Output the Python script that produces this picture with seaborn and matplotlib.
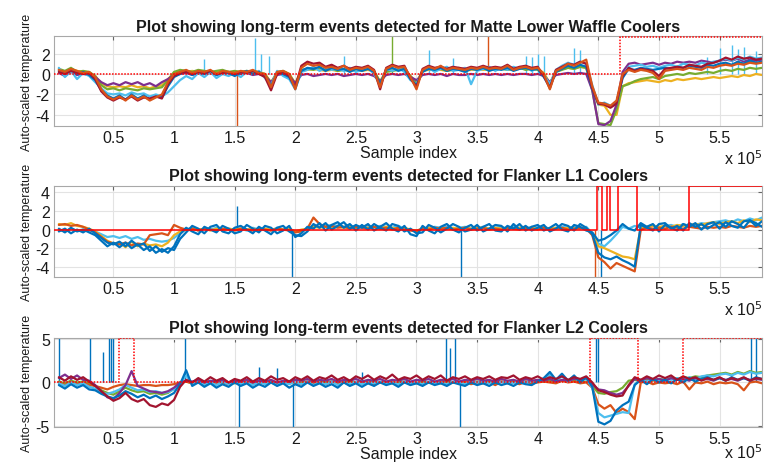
import numpy as np
import pandas as pd
import matplotlib
matplotlib.use("Agg")
import matplotlib.pyplot as plt
import seaborn as sns

# ---------------- data ----------------
titles = ["Plot showing long-term events detected for Matte Lower Waffle Coolers",
          "Plot showing long-term events detected for Flanker L1 Coolers",
          "Plot showing long-term events detected for Flanker L2 Coolers"]
x_tick_values = [50000, 100000, 150000, 200000, 250000, 300000, 350000, 400000, 450000, 500000, 550000]
x_tick_labels = ["0.5", "1", "1.5", "2", "2.5", "3", "3.5", "4", "4.5", "5", "5.5"]
y_ticks = [[-4, -2, 0, 2], [-4, -2, 0, 2, 4], [-5, 0, 5]]
y_limits = [(-5.1, 3.7), (-5.1, 4.7), (-5.1, 5.1)]
x_limits = (1000, 585000)

# sample index of every listed value (one value per 5000 samples)
sample_index = np.arange(1, 118) * 5000

colors = {"blue": "#0072BD", "orange": "#D95319", "yellow": "#EDB120", "purple": "#7E2F8E",
          "green": "#77AC30", "lightblue": "#4DBEEE", "darkred": "#A2142F", "blue2": "#0072BD"}

# ---- panel 1: Matte Lower Waffle Coolers ----
p1_yellow = [0.4, 0.2, 0.5, 0.3, 0.2, 0.1, -0.2, -0.9, -1.2, -1.3,
             -1.2, -1.3, -1.1, -1.3, -1.2, -1.4, -1.2, -1.1, -0.5, 0.1,
             0.3, 0.2, 0.3, 0.2, 0.3, 0.1, 0.2, 0.3, 0.2, 0.1,
             0.2, 0.1, 0.3, 0.2, 0.0, -0.8, 0.1, 0.2, 0.0, -0.9,
             0.3, 0.4, 0.5, 0.4, 0.3, 0.4, 0.3, 0.5, 0.4, 0.3,
             0.3, 0.4, 0.2, -0.7, 0.3, 0.4, 0.5, 0.4, -0.2, -0.8,
             0.3, 0.4, 0.5, 0.4, 0.3, 0.5, 0.4, 0.3, 0.4, 0.5,
             0.4, 0.5, 0.4, 0.6, 0.5, 0.4, 0.5, 0.6, 0.4, 0.5,
             0.1, -0.9, 0.3, 0.5, 0.6, 0.5, 0.7, 0.6, -1.3, -3.0,
             -3.1, -4.0, -4.0, -1.2, -0.9, -0.8, -0.7, -0.6, -0.7, -0.8,
             -0.6, -0.7, -0.5, -0.6, -0.5, -0.4, -0.5, -0.4, -0.3, -0.4,
             -0.3, -0.2, -0.3, -0.1, -0.2, 0.0, -0.1]
p1_green = [0.5, 0.3, 0.6, 0.2, 0.3, 0.2, -0.2, -1.1, -1.5, -1.4,
            -1.6, -1.4, -1.5, -1.6, -1.4, -1.5, -1.4, -1.3, -0.6, 0.2,
            0.4, 0.3, 0.2, 0.4, 0.3, 0.2, 0.3, 0.4, 0.2, 0.3,
            0.2, 0.3, 0.2, 0.1, 0.0, -0.9, 0.2, 0.3, 0.0, -1.0,
            0.4, 0.5, 0.4, 0.6, 0.4, 0.5, 0.3, 0.4, 0.3, 0.5,
            0.4, 0.5, 0.3, -0.8, 0.2, 0.3, 0.4, 0.5, -0.2, -0.9,
            0.3, 0.5, 0.4, 0.5, 0.3, 0.4, 0.6, 0.3, 0.5, 0.4,
            0.5, 0.4, 0.6, 0.5, 0.4, 0.5, 0.6, 0.4, 0.5, 0.4,
            0.0, -1.0, 0.2, 0.4, 0.6, 0.5, 0.7, 0.6, -1.6, -4.8,
            -4.9, -5.0, -3.5, -1.2, -1.0, -0.7, -0.5, -0.4, -0.3, -0.5,
            -0.2, -0.1, 0.0, -0.1, 0.1, 0.0, 0.1, 0.2, 0.1, 0.3,
            0.4, 0.3, 0.5, 0.4, 0.6, 0.5, 0.6]
p1_purple = [0.1, -0.2, 0.2, -0.1, 0.0, -0.1, -0.3, -0.8, -1.1, -0.9,
             -1.1, -0.8, -1.0, -0.8, -1.1, -0.9, -1.2, -0.8, -0.5, -0.1,
             0.0, 0.1, -0.1, 0.1, 0.0, 0.1, -0.1, 0.0, 0.1, -0.1,
             0.0, 0.1, -0.1, 0.0, -0.2, -0.8, -0.1, 0.0, -0.2, -0.9,
             -0.1, 0.0, -0.2, -0.1, 0.0, -0.1, 0.0, -0.2, -0.1, 0.0,
             -0.1, 0.0, -0.2, -0.7, -0.1, 0.0, -0.1, 0.0, -0.3, -0.6,
             -0.1, 0.0, -0.1, 0.0, -0.2, 0.0, -0.1, -0.1, 0.0, -0.1,
             0.0, -0.1, 0.0, -0.1, 0.0, -0.1, 0.0, 0.0, -0.1, 0.0,
             -0.2, -0.8, -0.1, 0.0, 0.1, 0.0, 0.1, 0.0, -1.6, -4.9,
             -5.0, -4.6, -3.0, 0.2, 1.0, 1.1, 0.9, 1.0, 1.1, 0.9,
             1.1, 1.0, 1.2, 1.1, 1.2, 1.1, 1.3, 1.2, 1.1, 1.3,
             1.4, 1.3, 1.5, 1.2, 1.4, 1.3, 1.4]
p1_lightblue = [0.6, -0.3, 0.3, -0.5, 0.1, -0.2, -0.8, -1.4, -1.9, -2.0,
                -1.9, -2.1, -1.8, -2.0, -1.9, -2.2, -2.0, -2.2, -1.8, -1.2,
                -0.6, -0.2, -0.5, 0.1, -0.3, 0.2, -0.4, 0.0, -0.2, 0.1,
                -0.3, 0.2, 0.0, 0.3, -0.4, -1.1, 0.3, -0.2, -0.5, -1.5,
                0.2, 0.4, 0.7, 0.3, 0.6, 0.4, 0.5, 0.3, 0.6, 0.2,
                0.4, 0.6, 0.0, -1.1, 0.5, 0.3, 0.6, 0.2, -0.6, -1.0,
                0.3, 0.6, 0.2, 0.5, 0.7, 0.3, 0.4, 0.6, -1.0, 0.3,
                0.5, 0.7, 0.3, 0.6, 0.4, 0.7, 0.5, 0.8, 0.3, 0.6,
                -0.1, -1.0, 0.4, 0.8, 1.1, 0.9, 1.2, 1.0, -1.1, -3.0,
                -2.8, -3.1, -2.9, -0.3, 0.7, 0.8, 0.9, 0.7, 0.8, 0.6,
                0.8, 0.9, 0.7, 1.0, 0.9, 0.8, 1.1, 1.0, 1.2, 1.3,
                1.5, 1.3, 1.6, 1.4, 1.7, 1.5, 1.6]
p1_blue = [0.3, 0.1, 0.4, 0.0, 0.2, -0.1, -0.6, -1.6, -2.1, -2.4,
           -2.1, -2.5, -2.0, -2.4, -2.1, -2.5, -2.2, -2.3, -1.2, -0.3,
           0.0, 0.3, -0.1, 0.2, 0.0, 0.3, -0.1, 0.2, 0.1, -0.2,
           0.1, 0.3, 0.0, 0.2, -0.2, -1.2, 0.1, 0.0, -0.3, -1.4,
           0.3, 0.6, 0.5, 0.7, 0.3, 0.6, 0.4, 0.5, 0.2, 0.5,
           0.3, 0.5, 0.2, -1.0, 0.4, 0.6, 0.3, 0.5, -0.5, -1.1,
           0.2, 0.5, 0.4, 0.6, 0.3, 0.5, 0.4, 0.2, 0.5, 0.4,
           0.6, 0.3, 0.5, 0.4, 0.6, 0.3, 0.5, 0.6, 0.4, 0.5,
           -0.3, -1.3, 0.2, 0.5, 0.8, 0.6, 0.9, 0.7, -1.5, -2.9,
           -2.9, -3.2, -2.8, -0.4, 0.5, 0.4, 0.6, 0.5, 0.4, 0.5,
           0.6, 0.5, 0.7, 0.6, 0.8, 0.7, 0.6, 0.9, 0.8, 1.0,
           1.1, 0.9, 1.2, 1.0, 1.3, 1.1, 1.2]
p1_darkred = [0.2, 0.0, 0.3, 0.1, 0.0, 0.1, -0.5, -1.7, -2.3, -2.6,
              -2.3, -2.5, -2.2, -2.6, -2.3, -2.4, -2.2, -2.4, -1.0, -0.2,
              0.1, 0.2, 0.0, 0.2, 0.1, 0.3, 0.0, 0.1, 0.2, 0.0,
              0.2, 0.1, 0.3, 0.0, -0.3, -1.6, 0.0, 0.2, -0.2, -1.3,
              0.8, 1.2, 1.0, 1.1, 0.7, 0.9, 0.6, 0.8, 0.5, 0.7,
              0.6, 0.8, 0.4, -1.5, 0.6, 0.9, 0.7, 0.8, -0.4, -1.3,
              0.5, 0.8, 0.6, 0.7, 0.5, 0.7, 0.6, 0.5, 0.7, 0.6,
              0.8, 0.6, 0.7, 0.6, 0.9, 0.5, 0.7, 0.8, 0.6, 0.7,
              -0.2, -1.4, 0.4, 0.7, 1.0, 0.9, 1.2, 1.0, -1.4, -2.9,
              -3.0, -3.3, -2.9, -0.2, 0.6, 0.3, 0.5, 0.4, 0.3, -0.2,
              0.5, 0.6, 0.7, 0.6, 0.9, 0.8, 0.7, 1.0, 1.1, 1.3,
              1.6, 1.4, 1.7, 1.5, 1.6, 1.4, 1.5]
p1_orange = [0.4, 0.2, 0.5, 0.3, 0.1, 0.2, -0.3, -1.5, -2.2, -2.5,
             -2.2, -2.6, -2.1, -2.5, -2.2, -2.6, -2.3, -2.0, -0.8, 0.0,
             0.2, 0.4, 0.1, 0.3, 0.2, 0.4, 0.0, 0.3, 0.2, 0.1,
             0.3, 0.2, 0.4, 0.1, 0.0, -1.3, 0.2, 0.3, 0.0, -1.5,
             0.6, 1.0, 0.8, 0.9, 0.6, 0.7, 0.5, 0.8, 0.4, 0.6,
             0.5, 0.7, 0.3, -1.3, 0.5, 0.8, 0.6, 0.7, -0.3, -1.5,
             0.4, 0.7, 0.5, 0.8, 0.4, 0.6, 0.5, 0.4, 0.6, 0.5,
             0.7, 0.5, 0.6, 0.5, 0.8, 0.4, 0.6, 0.7, 0.5, 0.6,
             0.0, -1.5, 0.3, 0.6, 1.0, 0.8, 1.1, 1.4, -1.2, -2.8,
             -2.9, -3.1, -2.6, 0.0, 0.4, 0.2, 0.4, 0.3, 0.1, -0.5,
             0.3, 0.4, 0.5, 0.4, 0.6, 0.5, 0.4, 0.7, 0.6, 0.8,
             0.9, 0.8, 1.0, 0.9, 1.1, 1.0, 1.1]
p1_spike_x = [125000, 152000, 167000, 172000, 178000, 240000, 280000, 310000, 330000, 359000,
              390000, 395000, 400000, 405000, 430000, 435000, 540000, 550000, 560000, 565000, 570000, 580000]
p1_spike_tip = [1.5, -5.1, 3.5, 2.0, 1.8, 1.8, 3.7, 2.3, 1.6, 3.7,
                1.8, 1.7, 2.0, 1.8, 2.5, 2.3, 1.7, 2.5, 2.8, 2.4, 2.6, 2.2]
p1_spike_color = ["lightblue", "orange", "lightblue", "lightblue", "lightblue", "lightblue", "green",
                  "lightblue", "lightblue", "orange", "lightblue", "lightblue", "lightblue", "lightblue",
                  "lightblue", "lightblue", "lightblue", "lightblue", "lightblue", "lightblue",
                  "lightblue", "lightblue"]
p1_event_x = [1000, 468000, 585000]
p1_event_level = [0, 3.65, 3.65]

# ---- panel 2: Flanker L1 Coolers ----
p2_lightblue = [0.0, -0.2, 0.1, -0.1, 0.0, -0.1, -0.2, -0.5, -0.8, -0.7,
                -0.9, -0.7, -1.0, -0.8, -1.1, -1.0, -1.2, -1.3, -1.2, -0.9,
                -0.4, 0.0, 0.2, -0.1, 0.1, 0.0, 0.2, -0.1, 0.1, 0.0,
                0.1, -0.1, 0.2, 0.0, 0.1, -0.1, 0.2, 0.0, 0.1, -0.2,
                -0.1, 0.1, 0.4, 0.3, 0.4, 0.5, 0.4, 0.3, 0.5, 0.2,
                0.3, 0.4, 0.2, 0.4, 0.3, 0.2, 0.4, 0.1, 0.0, -0.2,
                0.2, 0.1, 0.3, 0.2, 0.3, 0.1, 0.2, 0.3, 0.1, 0.2,
                0.3, 0.1, 0.2, 0.3, 0.1, 0.3, 0.2, 0.1, 0.3, 0.2,
                0.3, 0.1, 0.2, 0.3, 0.2, 0.3, 0.1, 0.3, -0.4, -1.5,
                -1.8, -1.2, -0.5, 0.3, 0.1, 0.4, 0.2, 0.3, 0.5, 0.2,
                0.4, 0.5, 0.3, 0.6, 0.4, 0.5, 0.7, 0.6, 0.8, 0.9,
                1.0, 0.8, 1.1, 0.9, 1.2, 1.0, 1.3]
p2_yellow = [0.6, 0.5, 0.7, 0.4, 0.3, 0.1, -0.2, -0.7, -1.2, -1.5,
             -1.4, -1.9, -1.3, -1.8, -1.5, -1.7, -1.6, -1.8, -1.4, -0.6,
             -0.2, 0.0, 0.1, 0.0, 0.1, -0.1, 0.1, 0.0, 0.1, 0.0,
             0.1, 0.0, 0.1, -0.1, 0.1, 0.0, 0.1, 0.0, 0.1, -0.2,
             0.0, 0.1, 0.3, 0.2, 0.3, 0.2, 0.3, 0.2, 0.3, 0.2,
             0.3, 0.2, 0.3, 0.1, 0.3, 0.2, 0.1, 0.2, 0.0, -0.1,
             0.1, 0.2, 0.1, 0.2, 0.1, 0.2, 0.1, 0.2, 0.1, 0.2,
             0.2, 0.1, 0.2, 0.1, 0.2, 0.1, 0.2, 0.1, 0.2, 0.1,
             0.2, 0.1, 0.2, 0.1, 0.2, 0.1, 0.2, 0.1, -0.4, -1.8,
             -2.0, -2.3, -2.6, -2.9, -3.0, -3.2, 0.2, 0.3, 0.4, 0.3,
             0.4, 0.3, 0.5, 0.4, 0.5, 0.6, 0.5, 0.7, 0.8, 0.6,
             0.8, 0.9, 0.7, 1.0, 0.8, 1.1, 1.0]
p2_orange = [0.5, 0.6, 0.4, 0.5, 0.3, 0.0, -0.3, -0.8, -1.3, -1.5,
             -1.6, -1.4, -1.7, -1.5, -1.6, -0.6, -0.5, -0.4, -0.6, 0.5,
             0.2, 0.0, 0.1, -0.1, 0.1, 0.0, -0.1, 0.1, 0.0, -0.1,
             0.1, 0.0, -0.1, 0.1, 0.0, -0.1, 0.1, 0.0, -0.1, -0.3,
             -0.2, 0.1, 1.3, 0.6, 0.3, 0.4, 0.2, 0.3, 0.1, 0.3,
             0.2, 0.1, 0.3, 0.1, 0.2, 0.0, 0.2, 0.0, -0.1, -0.2,
             0.1, 0.0, 0.2, 0.1, 0.2, 0.0, 0.1, 0.2, 0.0, 0.1,
             0.2, 0.0, 0.1, 0.0, 0.2, 0.1, 0.0, 0.2, 0.1, 0.0,
             0.2, 0.0, 0.1, 0.2, 0.0, 0.1, 0.2, 0.1, -0.6, -3.0,
             -3.5, -4.2, -3.6, -3.9, -4.2, -4.5, 0.0, 0.2, 0.1, 0.2,
             0.1, 0.3, 0.2, 0.1, 0.3, 0.2, 0.1, 0.3, 0.2, 0.3,
             0.2, 0.4, 0.3, 0.2, 0.4, 0.3, 0.4]
p2_blue2 = [0.1, -0.3, 0.2, -0.2, 0.0, -0.3, -0.6, -1.2, -1.8, -1.4,
            -1.9, -1.4, -2.0, -1.6, -2.2, -1.8, -2.5, -2.1, -2.5, -1.8,
            -0.5, 0.2, -0.2, -0.5, 0.3, 0.0, -0.3, 0.4, 0.1, -0.4,
            -0.2, 0.5, 0.1, -0.3, 0.4, 0.2, -0.4, -0.1, 0.4, -0.8,
            -0.4, 0.3, 0.1, 0.7, -0.1, 0.5, 0.8, 0.2, 0.6, -0.1,
            0.5, 0.0, 0.6, 0.2, -0.1, 0.6, 0.4, -0.2, 0.1, -0.4,
            -0.3, 0.5, 0.2, -0.3, 0.1, 0.6, 0.3, -0.2, 0.0, 0.5,
            -0.2, 0.1, 0.5, 0.4, -0.2, 0.6, 0.0, 0.4, -0.1, 0.2,
            0.5, -0.2, 0.1, 0.6, 0.4, -0.1, 0.6, 0.2, -0.5, -2.5,
            -3.0, -3.2, -2.9, -3.3, -3.6, -4.0, 0.5, 0.2, -0.1, 0.6,
            0.7, 0.1, 0.4, -0.1, 0.7, 0.3, 0.6, 0.1, 0.5, 0.8,
            0.3, 0.9, 0.6, 0.2, 1.0, 0.7, 0.3]
p2_blue = [-0.2, 0.1, -0.4, 0.0, -0.3, 0.1, -0.4, -0.9, -1.4, -1.6,
           -1.3, -1.8, -1.2, -1.7, -1.5, -2.3, -1.8, -2.4, -2.0, -2.2,
           -1.0, -0.3, 0.4, 0.1, -0.4, 0.3, 0.5, -0.2, -0.4, 0.2,
           0.4, 0.0, -0.4, 0.3, -0.1, -0.5, 0.2, 0.4, -0.2, -0.6,
           -0.7, -0.2, 0.6, 0.2, 0.7, 0.0, 0.4, 0.8, 0.1, 0.5,
           0.2, 0.6, -0.1, 0.3, 0.7, 0.1, -0.2, 0.4, -0.5, -0.7,
           0.4, -0.1, -0.4, 0.3, 0.6, 0.0, -0.3, 0.2, 0.5, -0.1,
           0.3, 0.6, -0.1, -0.2, 0.4, 0.1, 0.6, -0.1, 0.3, 0.5,
           -0.1, 0.2, 0.6, 0.0, -0.2, 0.5, 0.3, -0.1, -0.3, -1.2,
           -1.0, -0.6, -0.1, 0.6, 0.1, -0.1, 0.7, 0.3, 0.6, -0.2,
           0.5, 0.2, -0.1, 0.6, 0.3, 0.7, 0.0, 0.6, 0.8, 0.1,
           0.8, 0.4, 0.2, 0.9, 1.0, 0.4, 0.9]
p2_spike_x = [152000, 197000, 337000, 447000, 452000]
p2_spike_tip = [2.5, -5.1, -5.1, -5.1, -5.1]
p2_spike_color = ["blue", "blue", "blue", "orange", "blue"]
p2_event_x = [1000, 449000, 453000, 457000, 460000, 466000, 482000, 525000, 585000]
p2_event_level = [0, 4.65, 0, 4.65, 0, 4.65, 0, 4.65, 4.65]

# ---- panel 3: Flanker L2 Coolers ----
p3_green = [0.1, -0.1, 0.2, 0.0, 0.1, -0.1, -0.4, -0.9, -1.2, -1.4,
            -1.0, -0.6, -0.9, -1.1, -1.0, -1.3, -1.2, -1.4, -1.2, -0.7,
            0.0, 0.1, -0.1, 0.1, 0.0, 0.1, -0.1, 0.1, 0.0, -0.1,
            0.1, 0.0, -0.1, 0.1, 0.0, 0.1, -0.1, 0.0, 0.1, -0.1,
            0.0, 0.1, -0.1, 0.1, 0.0, 0.1, -0.1, 0.0, 0.1, 0.0,
            0.1, -0.1, 0.1, 0.0, 0.1, -0.1, 0.0, 0.1, 0.0, -0.1,
            0.1, 0.0, 0.1, -0.1, 0.1, 0.0, 0.1, -0.1, 0.0, 0.1,
            0.0, 0.1, -0.1, 0.1, 0.0, 0.1, 0.0, 0.1, 0.0, 0.1,
            0.1, 0.2, 0.0, 0.2, 0.1, 0.2, 0.0, 0.1, -0.4, -1.2,
            -1.3, -1.1, -1.0, -0.6, 0.2, 0.3, 0.1, 0.3, 0.2, 0.4,
            0.3, 0.5, 0.4, 0.6, 0.5, 0.7, 0.6, 0.8, 0.9, 1.0,
            1.1, 0.9, 1.2, 1.0, 1.3, 1.1, 1.2]
p3_orange = [0.0, -0.3, 0.1, -0.2, 0.0, -0.3, -0.4, -0.6, -0.8, -0.5,
             -0.3, -0.2, -0.3, -0.4, -0.3, -0.3, -0.4, -0.3, -0.3, -0.2,
             0.0, 0.1, -0.1, 0.0, -0.2, 0.1, -0.1, 0.0, -0.2, 0.0,
             -0.1, 0.1, -0.2, 0.0, -0.1, 0.1, -0.2, 0.0, -0.1, 0.0,
             -0.2, 0.1, -0.1, 0.0, -0.2, 0.1, -0.1, 0.0, -0.2, 0.0,
             -0.1, 0.1, -0.2, 0.0, -0.1, 0.1, -0.2, 0.0, -0.1, 0.0,
             -0.2, 0.0, -0.1, 0.1, -0.2, 0.0, -0.1, 0.1, -0.2, 0.0,
             -0.1, 0.0, -0.3, 0.1, -0.1, 0.0, -0.2, 0.1, -0.1, 0.0,
             0.1, 0.0, -0.1, 0.2, 0.0, 0.1, -0.1, 0.0, -0.6, -2.5,
             -3.0, -2.6, -3.5, -3.0, -3.4, -4.2, 0.0, 0.1, -0.2, 0.0,
             -0.1, 0.0, -0.2, 0.1, -0.8, 0.0, -0.1, 0.1, -0.2, 0.0,
             -0.1, 0.0, -0.2, -0.9, 0.0, 0.1, -0.1]
p3_lightblue = [-0.1, -0.4, 0.0, -0.3, -0.1, -0.5, -0.7, -1.2, -1.3, -1.1,
                -0.8, -0.3, -0.6, -0.9, -0.8, -1.1, -1.0, -1.2, -1.1, -0.8,
                -0.1, 0.8, -0.2, 0.1, -0.3, 0.0, -0.3, 0.1, -0.2, 0.0,
                -0.2, 0.0, -0.3, 0.1, -0.2, 0.0, -0.3, 0.0, -0.2, 0.1,
                -0.2, 0.1, -0.3, 0.0, -0.2, 0.1, -0.3, 0.0, -0.2, 0.1,
                -0.2, 0.0, -0.1, 0.1, -0.2, 0.0, -0.2, 0.1, -0.1, 0.0,
                -0.2, 0.1, -0.1, 0.0, -0.2, 0.1, 0.0, -0.2, 0.1, 0.0,
                0.1, -0.1, 0.2, 0.0, 0.1, -0.1, 0.2, 0.0, 0.1, 0.2,
                0.4, 0.9, 0.2, 0.7, 0.1, 0.5, 0.2, 0.4, -0.6, -3.5,
                -4.0, -3.8, -3.6, -3.4, -3.5, -0.2, 0.3, 0.1, 0.4, 0.2,
                0.4, 0.3, 0.5, 0.2, 0.6, 0.4, 0.7, 0.8, 0.7, 0.9,
                1.0, 0.8, 1.1, 0.9, 1.2, 1.0, 1.1]
p3_purple = [0.5, 0.9, 0.4, 0.8, 0.3, 0.2, -0.3, -1.0, -1.7, -1.9,
             -1.2, -0.3, 1.3, -0.4, -0.7, -1.0, -1.1, -1.2, -1.0, -0.6,
             0.0, 0.2, 0.1, 0.3, 0.0, 0.2, 0.1, 0.3, 0.0, 0.2,
             0.1, 0.3, 0.0, 0.2, 0.1, 0.3, 0.0, 0.2, 0.1, 0.3,
             0.2, 0.4, 0.1, 0.3, 0.2, 0.4, 0.1, 0.3, 0.2, 0.4,
             0.1, 0.3, 0.2, 0.4, 0.1, 0.3, 0.2, 0.4, 0.1, 0.3,
             0.2, 0.4, 0.1, 0.3, 0.2, 0.4, 0.1, 0.3, 0.2, 0.4,
             0.2, 0.3, 0.1, 0.4, 0.2, 0.3, 0.1, 0.4, 0.2, 0.3,
             0.2, 0.4, 0.1, 0.3, 0.2, 0.4, 0.3, 0.5, -0.2, -0.8,
             -0.9, -1.2, -1.4, -1.2, -0.4, 0.4, 0.2, 0.5, 0.3, 0.4,
             0.2, 0.5, 0.3, 0.4, 0.2, 0.5, 0.3, 0.4, 0.2, 0.5,
             0.3, 0.4, 0.2, 0.5, 0.3, 0.4, 0.3]
p3_blue = [-0.3, -0.7, -0.2, -0.6, -0.3, -0.8, -0.9, -1.3, -1.6, -1.8,
           -1.5, -1.0, -1.3, -1.7, -1.4, -1.8, -1.5, -1.9, -1.6, -1.2,
           -0.2, 1.4, -0.4, 0.0, -0.5, -0.1, -0.6, -0.2, -0.5, 0.0,
           -0.4, -0.1, -0.6, -0.2, -0.5, 0.0, -0.4, -0.1, -0.6, -0.2,
           -0.5, 0.0, -0.4, -0.1, -0.5, -0.2, -0.6, 0.0, -0.4, -0.1,
           -0.5, -0.1, -0.4, 0.0, -0.3, -0.1, -0.5, 0.0, -0.3, -0.1,
           -0.4, 0.0, -0.3, -0.1, -0.4, 0.0, -0.2, -0.4, 0.0, -0.3,
           -0.1, -0.4, 0.0, -0.3, -0.1, -0.4, 0.0, -0.2, -0.3, 0.1,
           0.5, 1.2, 0.3, 1.0, 0.2, 0.8, 0.0, 0.6, -0.5, -4.5,
           -4.8, -4.4, -3.2, -2.6, -2.2, -0.3, 0.3, -0.2, 0.4, 0.0,
           0.3, -0.1, 0.4, 0.0, 0.5, 0.1, 0.4, 0.6, 0.3, 0.5,
           0.2, 0.6, 0.3, 0.5, 0.2, 0.6, 0.4]
p3_darkred = [0.6, 0.2, 0.7, 0.3, 0.6, 0.1, -0.4, -1.0, -1.6, -2.1,
              -1.8, -1.2, -1.9, -2.2, -1.9, -2.6, -2.8, -2.4, -2.6, -2.0,
              -0.5, 0.3, 0.0, 0.5, 0.1, 0.6, 0.2, 0.5, 0.0, 0.4,
              0.2, 0.6, 0.1, 0.5, 0.2, 0.7, 0.3, 0.5, 0.1, 0.6,
              0.3, 0.7, 0.2, 0.6, 0.4, 0.8, 0.3, 0.6, 0.2, 0.7,
              0.4, 0.8, 0.3, 0.7, 0.4, 0.9, 0.3, 0.6, 0.4, 0.8,
              0.3, 0.7, 0.4, 0.8, 0.2, 0.6, 0.4, 0.7, 0.3, 0.6,
              0.4, 0.7, 0.3, 0.6, 0.5, 0.8, 0.3, 0.6, 0.4, 0.7,
              0.3, 0.6, 0.4, 0.7, 0.3, 0.6, 0.4, 0.7, 0.0, -0.9,
              -1.1, -1.4, -1.6, -1.5, -0.3, 0.6, 0.3, 0.7, 0.4, 0.8,
              0.5, 0.8, 0.3, 0.7, 0.4, 0.6, 0.2, 0.5, 0.3, 0.6,
              0.2, 0.5, 0.3, 0.6, 0.2, 0.5, 0.4]
p3_spike_x = [5000, 31000, 41000, 46000, 48000, 50000, 109000, 154000, 170000, 185000,
              198000, 255000, 324000, 328000, 332000, 336000, 448000, 450000, 576000, 580000]
p3_spike_tip = [5.1, 5.1, 3.5, 5.1, 5.1, 5.1, 5.1, -5.1, 1.8, 1.6,
                -5.1, 1.2, 5.1, 4.0, 5.1, -5.1, 5.1, 5.1, 5.1, 5.1]
p3_spike_color = ["blue"] * 20
p3_event_x = [1000, 55000, 67000, 443000, 483000, 520000, 585000]
p3_event_level = [0, 5.05, 0, 5.05, 0, 5.05, 5.05]

panels = [
    {"series": {"yellow": p1_yellow, "green": p1_green, "purple": p1_purple, "lightblue": p1_lightblue,
                "blue": p1_blue, "darkred": p1_darkred, "orange": p1_orange},
     "spikes": (p1_spike_x, p1_spike_tip, p1_spike_color),
     "event": (p1_event_x, p1_event_level), "event_style": (0, (1, 1))},
    {"series": {"lightblue": p2_lightblue, "yellow": p2_yellow, "orange": p2_orange,
                "blue2": p2_blue2, "blue": p2_blue},
     "spikes": (p2_spike_x, p2_spike_tip, p2_spike_color),
     "event": (p2_event_x, p2_event_level), "event_style": "-"},
    {"series": {"green": p3_green, "orange": p3_orange, "lightblue": p3_lightblue,
                "purple": p3_purple, "blue": p3_blue, "darkred": p3_darkred},
     "spikes": (p3_spike_x, p3_spike_tip, p3_spike_color),
     "event": (p3_event_x, p3_event_level), "event_style": (0, (1, 1))},
]

# ---------------- drawing ----------------
sns.set_theme(style="white")
plt.rcParams["font.family"] = ["Liberation Sans", "DejaVu Sans"]

fig = plt.figure(figsize=(7.65, 4.64), dpi=100)
rects = [[0.0706, 0.726, 0.9255, 0.194],
         [0.0706, 0.401, 0.9255, 0.196],
         [0.0706, 0.0776, 0.9255, 0.192]]
exp_offsets = [-16, -16, -11]

for i, (panel, rect) in enumerate(zip(panels, rects)):
    ax = fig.add_axes(rect)
    frames = []
    for name, vals in panel["series"].items():
        assert len(vals) == len(sample_index), (i, name, len(vals))
        frames.append(pd.DataFrame({"sample": sample_index, "value": vals, "series": name}))
    df = pd.concat(frames, ignore_index=True)
    order = list(panel["series"].keys())
    # spikes drawn underneath
    sx, st, sc = panel["spikes"]
    for x, t, c in zip(sx, st, sc):
        ax.vlines(x, 0, t, color=colors[c], lw=1.0, zorder=1)
    sns.lineplot(data=df, x="sample", y="value", hue="series", hue_order=order,
                 palette={k: colors[k] for k in order}, estimator=None, lw=1.6,
                 legend=False, ax=ax, zorder=2)
    ex, el = panel["event"]
    ax.step(ex, el, where="post", color="#FF0000", lw=1.1, linestyle=panel["event_style"], zorder=3)

    ax.set_xlim(*x_limits)
    ax.set_ylim(*y_limits[i])
    ax.set_xticks(x_tick_values)
    ax.set_xticklabels(x_tick_labels)
    ax.set_yticks(y_ticks[i])
    ax.set_yticklabels([str(v) for v in y_ticks[i]])
    ax.grid(True, color="#E3E3E3", lw=0.8, zorder=0)
    ax.set_axisbelow(True)
    ax.tick_params(direction="in", top=True, right=True, length=3, width=0.8,
                   color="#666666", labelsize=11.5, pad=3, labelcolor="#1A1A1A")
    for sp in ax.spines.values():
        sp.set_color("#A8A8A8")
        sp.set_linewidth(0.8)
    ax.set_title(titles[i], fontsize=11.5, fontweight="bold", pad=4, color="#1A1A1A")
    ax.set_ylabel("Auto-scaled temperature", fontsize=9, labelpad=2, color="#1A1A1A")
    if i != 1:
        ax.set_xlabel("Sample index", fontsize=11.5, labelpad=0, color="#1A1A1A")
    else:
        ax.set_xlabel("")
    ax.annotate("x 10$^5$", xy=(1, 0), xycoords="axes fraction", xytext=(0, exp_offsets[i]),
                textcoords="offset points", ha="right", va="top", fontsize=11.5, color="#1A1A1A")

fig.savefig("out.png", dpi=100)
